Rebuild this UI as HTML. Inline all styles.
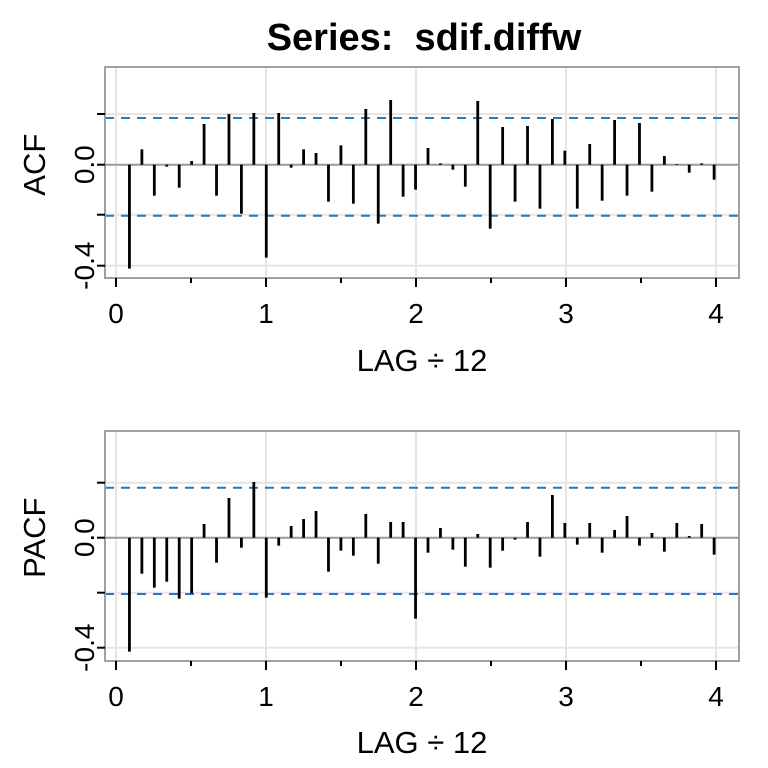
<!DOCTYPE html>
<html><head><style>body{margin:0;background:#fff}svg{display:block}</style></head>
<body>
<svg id="s" width="768" height="768" xmlns="http://www.w3.org/2000/svg" font-family="Liberation Sans, sans-serif"></svg>
<script>
const acf=[626,268,407,320,383,303,192,407,162,461,159,593,159,323,268,279,425,256,431,147,491,120,410,389,264,310,329,380,123,506,201,425,198,446,177,272,446,252,422,180,407,189,395,288,312,338,310,359];
const pacf=[680,446,488,470,521,505,297,413,219,368,171,518,362,303,282,258,440,377,392,267,416,291,291,581,383,309,374,425,327,428,377,344,291,395,210,294,359,294,383,315,273,362,324,380,294,333,297,389];
let h='';
h+=`<text x="424" y="50" font-size="38" font-weight="bold" text-anchor="middle">Series:&#160; sdif.diffw</text>`;
function panel(off,zy,ys,yLab,dash,top,bot,data,lab,xlY,labY){
  const X=v=>116+v*150;
  for(let i=0;i<=4;i++) h+=`<line x1="${X(i)}" x2="${X(i)}" y1="${top}" y2="${bot}" stroke="#e5e5e5" stroke-width="2"/>`;
  for(const y of ys) h+=`<line x1="105" x2="739" y1="${y}" y2="${y}" stroke="#e5e5e5" stroke-width="2"/>`;
  h+=`<line x1="105" x2="739" y1="${zy}" y2="${zy}" stroke="#999" stroke-width="2"/>`;
  for(const y of dash) h+=`<line x1="105" x2="739" y1="${y}" y2="${y}" stroke="#1f78d4" stroke-width="2" stroke-dasharray="9,7"/>`;
  data.forEach((v,i)=>{const x=117+(i+1)*12.44;const y=off+v/3;h+=`<line x1="${x}" x2="${x}" y1="${zy}" y2="${y}" stroke="#000" stroke-width="2.8"/>`;});
  h+=`<rect x="105" y="${top}" width="634" height="${bot-top}" fill="none" stroke="#a0a0a0" stroke-width="2"/>`;
  for(const y of ys.concat([zy])) h+=`<line x1="97" x2="105" y1="${y}" y2="${y}" stroke="#000" stroke-width="2"/>`;
  for(let i=0;i<=8;i++){const x=X(i/2);h+=`<line x1="${x}" x2="${x}" y1="${bot}" y2="${bot+(i%2?5:9)}" stroke="#000" stroke-width="2"/>`;
    if(i%2==0) h+=`<text x="${x}" y="${xlY}" font-size="28" text-anchor="middle">${i/2}</text>`;}
  h+=`<text transform="translate(94,${zy}) rotate(-90)" font-size="28" text-anchor="middle">0.0</text>`;
  h+=`<text transform="translate(94,${yLab}) rotate(-90)" font-size="28" text-anchor="middle">-0.4</text>`;
  h+=`<text transform="translate(45,${zy}) rotate(-90)" font-size="31" text-anchor="middle">${lab}</text>`;
  h+=`<text x="422" y="${labY}" font-size="31" text-anchor="middle">LAG ÷ 12</text>`;
}
panel(60,164.7,[114,214.7,265.7],265.7,[118,215.7],67,278,acf,'ACF',323,371);
panel(425,537.7,[482.7,592.7,647.7],647.7,[487.7,594],431,661,pacf,'PACF',706,753);
document.getElementById('s').innerHTML=h;
</script>
</body></html>
